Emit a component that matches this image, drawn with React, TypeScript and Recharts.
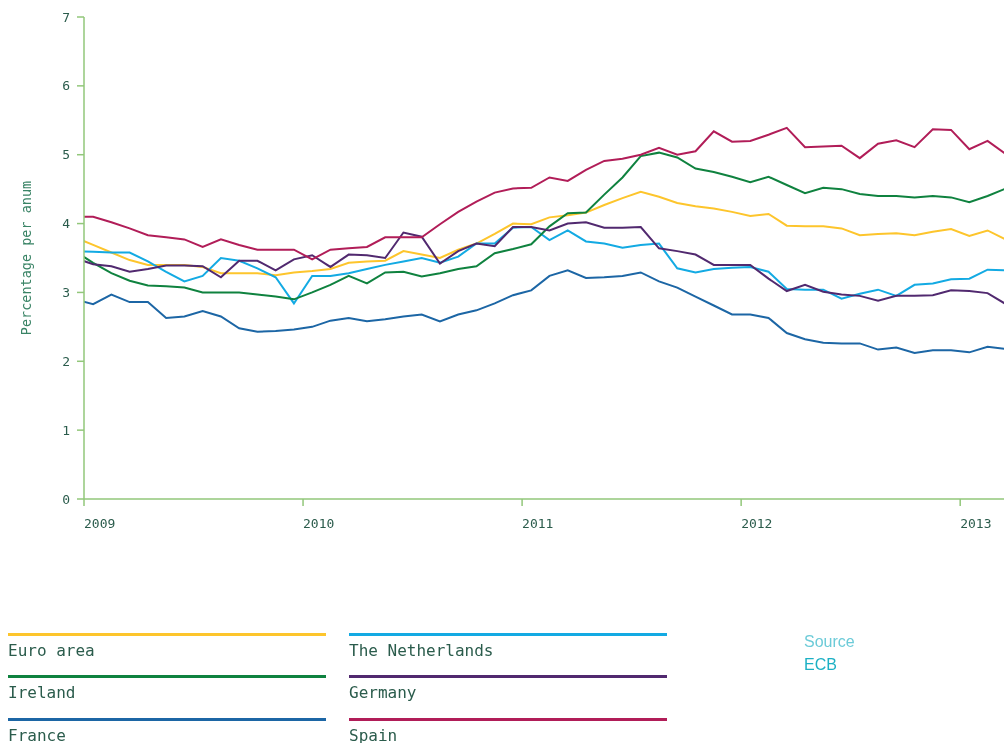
import { LineChart, Line, XAxis, YAxis } from "recharts";

const months = [
  "2008-12",
  "2009-01", "2009-02", "2009-03", "2009-04", "2009-05", "2009-06", "2009-07", "2009-08", "2009-09", "2009-10", "2009-11", "2009-12",
  "2010-01", "2010-02", "2010-03", "2010-04", "2010-05", "2010-06", "2010-07", "2010-08", "2010-09", "2010-10", "2010-11", "2010-12",
  "2011-01", "2011-02", "2011-03", "2011-04", "2011-05", "2011-06", "2011-07", "2011-08", "2011-09", "2011-10", "2011-11", "2011-12",
  "2012-01", "2012-02", "2012-03", "2012-04", "2012-05", "2012-06", "2012-07", "2012-08", "2012-09", "2012-10", "2012-11", "2012-12",
  "2013-01", "2013-02", "2013-03",
];

const euroArea = [
  3.8, 3.69, 3.58, 3.47, 3.4, 3.4, 3.4, 3.37, 3.28, 3.28, 3.28, 3.25, 3.29, 3.31,
  3.34, 3.43, 3.45, 3.46, 3.6, 3.55, 3.5, 3.62, 3.71, 3.85, 4.0, 3.99,
  4.09, 4.12, 4.16, 4.27, 4.37, 4.46, 4.39, 4.3, 4.25, 4.22, 4.17, 4.11,
  4.14, 3.97, 3.96, 3.96, 3.93, 3.83, 3.85, 3.86, 3.83, 3.88, 3.92, 3.82, 3.9, 3.77,
];
const netherlands = [
  3.6, 3.59, 3.58, 3.58, 3.45, 3.3, 3.16, 3.24, 3.5, 3.46, 3.35, 3.22, 2.84, 3.24,
  3.24, 3.28, 3.34, 3.4, 3.45, 3.5, 3.43, 3.52, 3.71, 3.71, 3.94, 3.95,
  3.76, 3.9, 3.74, 3.71, 3.65, 3.69, 3.71, 3.35, 3.29, 3.34, 3.36, 3.37,
  3.3, 3.05, 3.04, 3.04, 2.91, 2.98, 3.04, 2.95, 3.11, 3.13, 3.19, 3.2, 3.33, 3.32,
];
const ireland = [
  3.6, 3.43, 3.28, 3.17, 3.1, 3.09, 3.07, 3.0, 3.0, 3.0, 2.97, 2.94, 2.9, 3.0,
  3.11, 3.24, 3.13, 3.29, 3.3, 3.23, 3.28, 3.34, 3.38, 3.57, 3.63, 3.7,
  3.96, 4.15, 4.16, 4.42, 4.67, 4.98, 5.03, 4.96, 4.8, 4.75, 4.68, 4.6,
  4.68, 4.56, 4.44, 4.52, 4.5, 4.43, 4.4, 4.4, 4.38, 4.4, 4.38, 4.31, 4.4, 4.51,
];
const germany = [
  3.5, 3.41, 3.38, 3.3, 3.34, 3.39, 3.39, 3.38, 3.22, 3.46, 3.46, 3.32, 3.48, 3.54,
  3.37, 3.55, 3.54, 3.5, 3.87, 3.81, 3.42, 3.6, 3.71, 3.67, 3.95, 3.95,
  3.9, 4.0, 4.02, 3.94, 3.94, 3.95, 3.64, 3.6, 3.55, 3.4, 3.4, 3.4,
  3.2, 3.02, 3.11, 3.01, 2.97, 2.95, 2.88, 2.95, 2.95, 2.96, 3.03, 3.02, 2.99, 2.83,
];
const france = [
  2.9, 2.83, 2.97, 2.86, 2.86, 2.63, 2.65, 2.73, 2.65, 2.48, 2.43, 2.44, 2.46, 2.5,
  2.59, 2.63, 2.58, 2.61, 2.65, 2.68, 2.58, 2.68, 2.74, 2.84, 2.96, 3.03,
  3.24, 3.32, 3.21, 3.22, 3.24, 3.29, 3.16, 3.07, 2.94, 2.81, 2.68, 2.68,
  2.63, 2.41, 2.32, 2.27, 2.26, 2.26, 2.17, 2.2, 2.12, 2.16, 2.16, 2.13, 2.21, 2.18,
];
const spain = [
  4.1, 4.1, 4.02, 3.93, 3.83, 3.8, 3.77, 3.66, 3.77, 3.69, 3.62, 3.62, 3.62, 3.48,
  3.62, 3.64, 3.66, 3.8, 3.8, 3.8, 3.99, 4.17, 4.32, 4.45, 4.51, 4.52,
  4.67, 4.62, 4.78, 4.91, 4.94, 5.0, 5.1, 5.0, 5.05, 5.34, 5.19, 5.2,
  5.29, 5.39, 5.11, 5.12, 5.13, 4.95, 5.16, 5.21, 5.11, 5.37, 5.36, 5.08, 5.2, 5.01,
];

const years = ["2009", "2010", "2011", "2012", "2013"];
const yTicks = [0, 1, 2, 3, 4, 5, 6, 7];

const series = [
  { key: "euro", name: "Euro area", values: euroArea, color: "#fdc52c" },
  { key: "nl", name: "The Netherlands", values: netherlands, color: "#13aae3" },
  { key: "ie", name: "Ireland", values: ireland, color: "#0f823f" },
  { key: "de", name: "Germany", values: germany, color: "#51296f" },
  { key: "fr", name: "France", values: france, color: "#1c66a5" },
  { key: "es", name: "Spain", values: spain, color: "#b11d58" },
];

// monthly values sit in the middle of their month, years start at Jan 1
const monthPos = (m: string) => {
  const [y, mo] = m.split("-").map(Number);
  return (y - 2009) * 12 + (mo - 1) + 0.5;
};

const data = months.map((m, i) => {
  const row: Record<string, number> = { x: monthPos(m) };
  series.forEach((s) => (row[s.key] = s.values[i]));
  return row;
});

const yearTicks = years.map((y) => (Number(y) - 2009) * 12);

const MONO = "'DejaVu Sans Mono', monospace";
const AXIS = "#92c77a";
const INK = "#2b5c4c";

const YearTick = ({ x, y, payload }: any) => (
  <text x={x} y={y} dy="0.71em" textAnchor="start" fill={INK} fontSize={13} fontFamily={MONO}>
    {years[yearTicks.indexOf(payload.value)]}
  </text>
);

export default function App() {
  return (
    <div style={{ position: "fixed", left: 8, top: 8, width: 996, height: 735, overflow: "hidden" }}>
      <LineChart width={996} height={540} data={data} margin={{ top: 9, right: 0, bottom: 19, left: 0 }}>
        <XAxis
          dataKey="x"
          type="number"
          domain={[0, 50.4]}
          allowDataOverflow
          ticks={yearTicks}
          tick={<YearTick />}
          tickSize={7}
          tickMargin={13}
          height={30}
          axisLine={{ stroke: AXIS, strokeWidth: 1.5 }}
          tickLine={{ stroke: AXIS, strokeWidth: 1.5 }}
        />
        <YAxis
          type="number"
          domain={[0, 7]}
          ticks={yTicks}
          width={76}
          tickSize={7}
          tickMargin={7}
          axisLine={{ stroke: AXIS, strokeWidth: 1.5 }}
          tickLine={{ stroke: AXIS, strokeWidth: 1.5 }}
          tick={{ fill: INK, fontSize: 13, fontFamily: MONO }}
        />
        {series.map((s) => (
          <Line
            key={s.key}
            dataKey={s.key}
            name={s.name}
            type="linear"
            stroke={s.color}
            strokeWidth={2}
            dot={false}
            isAnimationActive={false}
          />
        ))}
      </LineChart>

      <div
        style={{
          position: "absolute",
          left: 18,
          top: 250,
          transform: "translate(-50%, -50%) rotate(-90deg)",
          whiteSpace: "nowrap",
          fontFamily: MONO,
          fontSize: 13.5,
          color: "#3a8466",
        }}
      >
        Percentage per anum
      </div>

      {series.map((s, i) => {
        const col = i % 2;
        const row = Math.floor(i / 2);
        return (
          <div
            key={s.key}
            style={{ position: "absolute", left: col * 341, top: 624.5 + row * 42.5, width: 318 }}
          >
            <div style={{ height: 3, background: s.color }} />
            <div
              style={{
                marginTop: 5,
                fontFamily: MONO,
                fontSize: 16,
                lineHeight: "20px",
                color: INK,
              }}
            >
              {s.name}
            </div>
          </div>
        );
      })}

      <div
        style={{
          position: "absolute",
          left: 796,
          top: 622,
          fontFamily: "'Liberation Sans', Arial, sans-serif",
          fontSize: 16,
          lineHeight: "23px",
        }}
      >
        <div style={{ color: "#6ccbd8" }}>Source</div>
        <div style={{ color: "#1cb0c4" }}>ECB</div>
      </div>
    </div>
  );
}
